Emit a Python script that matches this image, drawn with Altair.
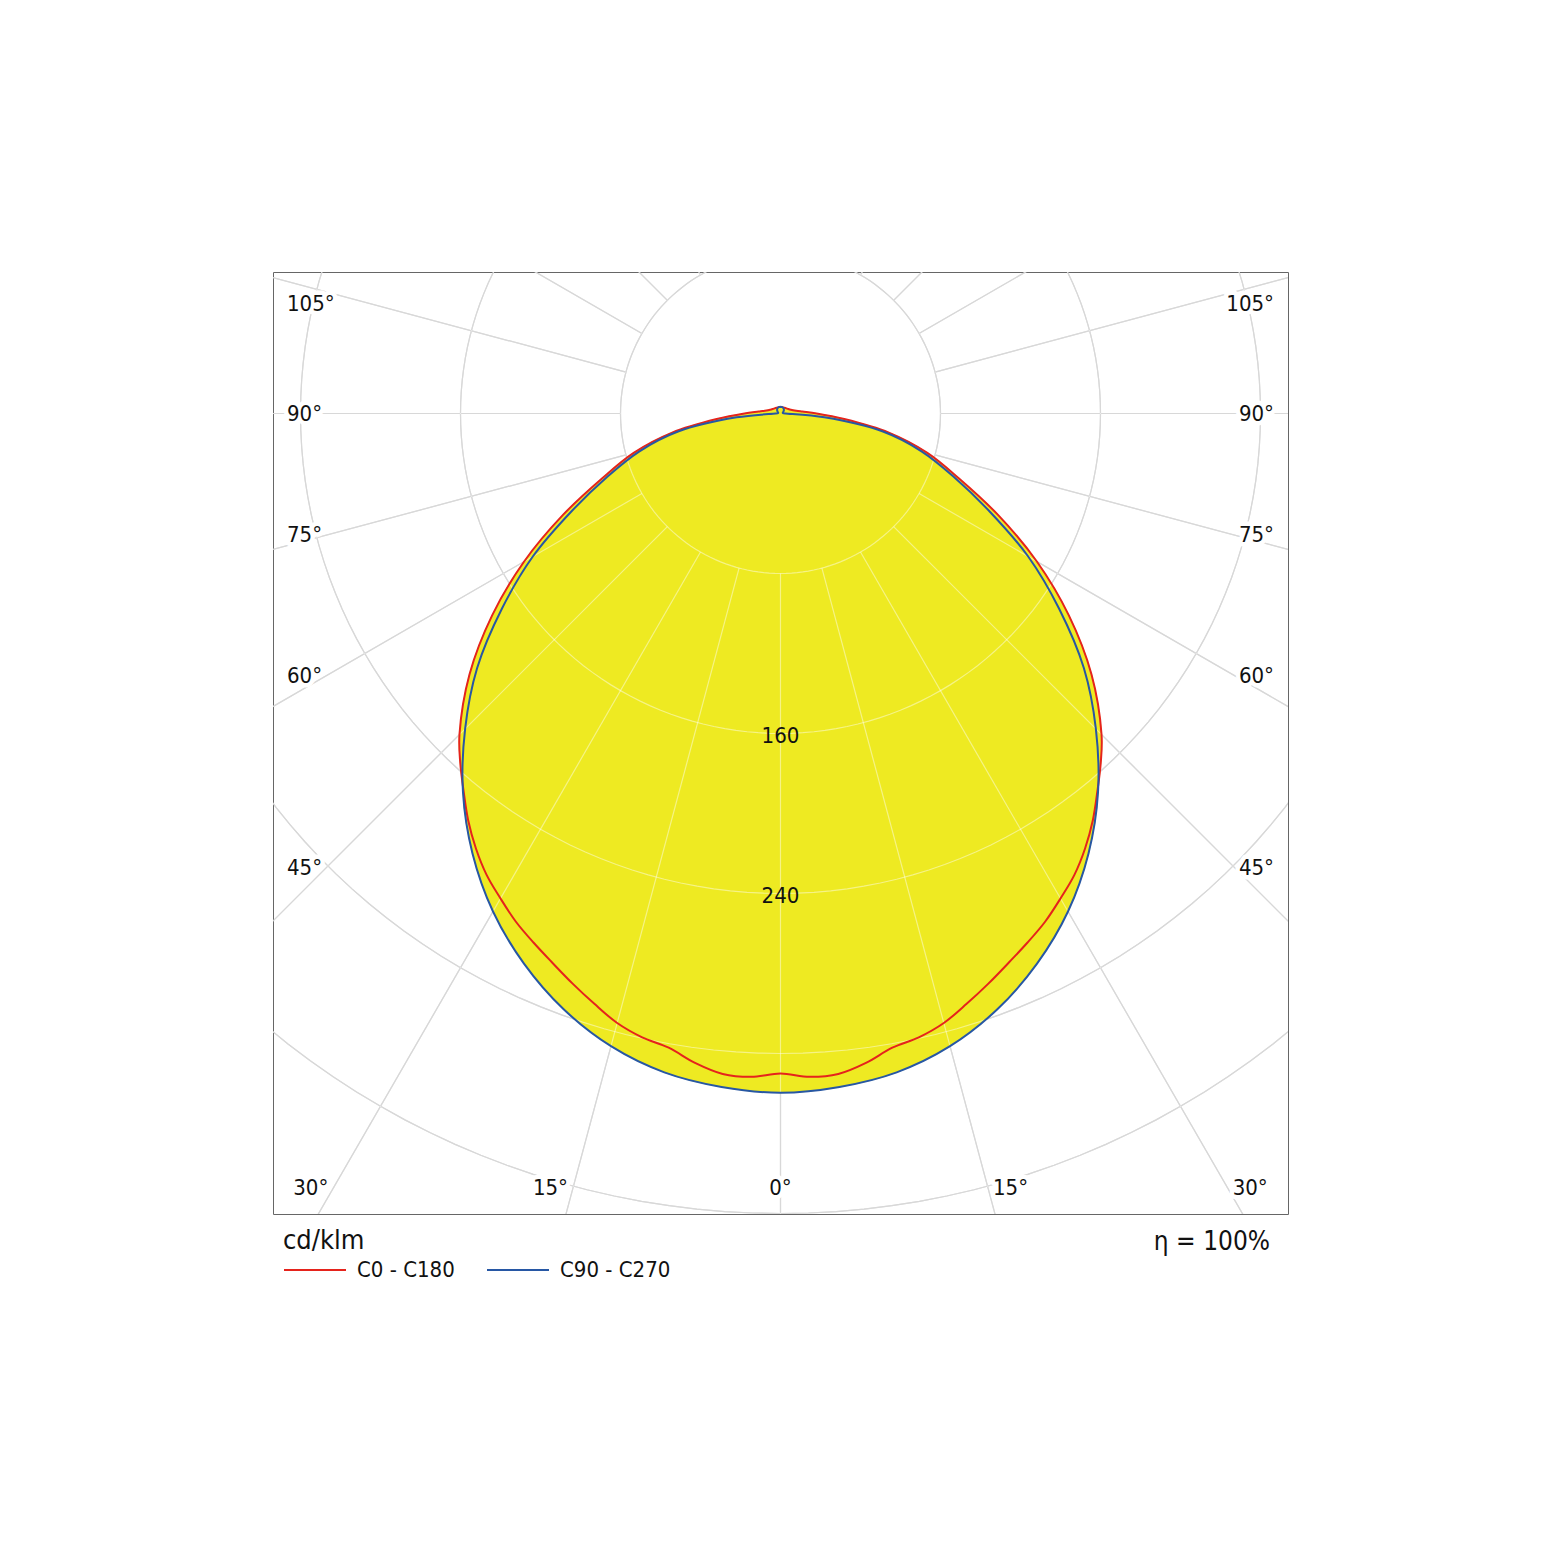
import math
import altair as alt
import pandas as pd

# ---- values (cd/klm, angle from nadir in degrees) ----
C0_ANGLES = [0, 2.5, 5, 7.5, 10, 12.5, 15, 17.5, 20, 22.5, 25, 27.5, 30, 32.5, 35, 37.5,
             40, 42.5, 45, 50, 55, 60, 65, 70, 75, 80, 85, 90, 95, 100, 110, 120, 135, 150, 165, 180]
C0_VALUES = [330, 332, 331.5, 327.5, 322, 319.5, 315.5, 309.5, 303.5, 297.5, 292, 286.5, 280, 273.5, 265.5, 256.5,
             246.5, 237, 227, 203, 176, 148, 120, 95, 76, 55, 32, 18, 11, 8, 5.5, 4.5, 3.8, 3.4, 3.3, 3.3]

C90_ANGLES = [0, 5, 10, 15, 20, 25, 30, 35, 40, 45, 50, 55, 60, 65, 70, 75, 80, 85, 90,
              95, 100, 110, 120, 135, 150, 165, 180]
C90_VALUES = [339.6, 338, 334.5, 327.5, 317, 303.5, 287.5, 268.5, 247, 223, 198, 170, 143, 115, 92, 73, 52, 22, 2.5,
              1.5, 1.2, 1.2, 1.6, 2.4, 3.0, 3.3, 3.4]

SERIES = ["C0 - C180", "C90 - C270"]
RING_VALUES = [80, 160, 240, 320, 400]
RING_LABELS = [160, 240]
RADIAL_ANGLES = list(range(-165, 181, 15))
SIDE_LABEL_ANGLES = [45, 60, 75, 90, 105]
BOTTOM_LABEL_ANGLES = [15, 30]
UNIT = "cd/klm"
EFFICIENCY = "η = 100%"

# ---- styling ----
FONT = "DejaVu Sans Condensed, Noto Sans, sans-serif"
YELLOW = "#EEEA22"
RED = "#E5231C"
BLUE = "#2757A4"
X_MIN, X_MAX = -253.75, 253.75
Y_MIN, Y_MAX = -400.25, 70.75
W, H = 1015, 942

X = alt.X("x:Q", scale=alt.Scale(domain=[X_MIN, X_MAX], nice=False, zero=False), axis=None)
Y = alt.Y("y:Q", scale=alt.Scale(domain=[Y_MIN, Y_MAX], nice=False, zero=False), axis=None)


def polar(angle_deg, value, side):
    t = math.radians(angle_deg)
    return side * value * math.sin(t), -value * math.cos(t)


def polygon(angles, values, name):
    pts = [(-1, a, v) for a, v in zip(reversed(angles), reversed(values))]
    pts += [(1, a, v) for a, v in zip(angles[1:], values[1:])]
    rows = []
    for i, (s, a, v) in enumerate(pts):
        x, y = polar(a, v, s)
        rows.append({"series": name, "idx": i, "x": x, "y": y})
    return rows


curve_df = pd.DataFrame(polygon(C0_ANGLES, C0_VALUES, SERIES[0]) +
                        polygon(C90_ANGLES, C90_VALUES, SERIES[1]))

grid_rows = []
for r in RING_VALUES:
    for k in range(0, 361, 2):
        x, y = polar(k, r, 1)
        grid_rows.append({"g": f"ring{r}", "idx": k, "x": x, "y": y})
for a in RADIAL_ANGLES:
    for j, r in enumerate([RING_VALUES[0], 900]):
        x, y = polar(a, r, 1)
        grid_rows.append({"g": f"ray{a}", "idx": j, "x": x, "y": y})
grid_df = pd.DataFrame(grid_rows)

grid_under = alt.Chart(grid_df).mark_line(clip=True, color="#b8b8b8", strokeWidth=1.2).encode(
    x=X, y=Y, detail="g:N", order="idx:Q")
grid_over = alt.Chart(grid_df).mark_line(clip=True, color="#ffffff", strokeWidth=1.2, opacity=0.45).encode(
    x=X, y=Y, detail="g:N", order="idx:Q")

fill = alt.Chart(curve_df).mark_line(clip=True, fill=YELLOW, stroke=YELLOW, strokeWidth=1,
                                     interpolate="catmull-rom").encode(
    x=X, y=Y, detail="series:N", order="idx:Q")

curves = alt.Chart(curve_df).mark_line(clip=True, strokeWidth=2, strokeJoin="round",
                                       interpolate="catmull-rom").encode(
    x=X, y=Y, order="idx:Q",
    color=alt.Color("series:N",
                    scale=alt.Scale(domain=SERIES, range=[RED, BLUE]),
                    legend=alt.Legend(title=UNIT, orient="none", legendX=10, legendY=956,
                                      direction="horizontal", symbolType="stroke", symbolSize=3844,
                                      symbolStrokeWidth=2, labelFontSize=22, titleFontSize=27,
                                      titleFontWeight="normal", labelFont=FONT, titleFont=FONT,
                                      columnPadding=28, labelOffset=10, titlePadding=-17,
                                      titleColor="#111111", labelColor="#111111")))

# ---- angle labels ----
left_x = X_MIN + 7
right_x = X_MAX - 7
side_rows_l, side_rows_r = [], []
for a in SIDE_LABEL_ANGLES:
    yy = -227 / math.tan(math.radians(a)) if a != 90 else 0.0
    yy = min(yy, Y_MAX - 16)
    side_rows_l.append({"x": left_x, "y": yy, "t": f"{a}°"})
    side_rows_r.append({"x": right_x, "y": yy, "t": f"{a}°"})
bottom_y = Y_MIN + 13
bot_l = [{"x": -(-bottom_y) * math.tan(math.radians(a)), "y": bottom_y, "t": f"{a}°"} for a in BOTTOM_LABEL_ANGLES]
bot_r = [{"x": (-bottom_y) * math.tan(math.radians(a)), "y": bottom_y, "t": f"{a}°"} for a in BOTTOM_LABEL_ANGLES]
bot_c = [{"x": 0.0, "y": bottom_y, "t": "0°"}]
ring_lab = [{"x": 0.0, "y": -float(v), "t": str(v)} for v in RING_LABELS]


def text_layers(rows, align, dx=0, dy=0, halo=True):
    df = pd.DataFrame(rows)
    base = alt.Chart(df)
    layers = []
    if halo:
        layers.append(base.mark_text(align=align, baseline="middle", dx=dx, dy=dy, font=FONT, fontSize=22,
                                     fill="white", stroke="white", strokeWidth=9, strokeJoin="round").encode(
            x=X, y=Y, text="t:N"))
    layers.append(base.mark_text(align=align, baseline="middle", dx=dx, dy=dy, font=FONT, fontSize=22,
                                 color="#111111").encode(x=X, y=Y, text="t:N"))
    return layers


labels = []
labels += text_layers(side_rows_l, "left")
labels += text_layers(side_rows_r, "right")
labels += text_layers(bot_l, "right", dx=-5)
labels += text_layers(bot_r, "left", dx=5)
labels += text_layers(bot_c, "center")
labels += text_layers(ring_lab, "center", dy=2, halo=False)

eff = alt.Chart(pd.DataFrame({"t": [EFFICIENCY]})).mark_text(
    align="right", baseline="middle", font=FONT, fontSize=26, color="#111111").encode(
    x=alt.value(997), y=alt.value(970), text="t:N")

chart = alt.layer(grid_under, fill, grid_over, curves, *labels, eff).properties(
    width=W, height=H,
    padding={"left": 265, "top": 264, "right": 40, "bottom": 120},
    autosize=alt.AutoSizeParams(type="none"),
).configure_view(stroke="#666666", strokeWidth=1)

chart.save("out.html", embed_options={"renderer": "svg", "actions": False})
